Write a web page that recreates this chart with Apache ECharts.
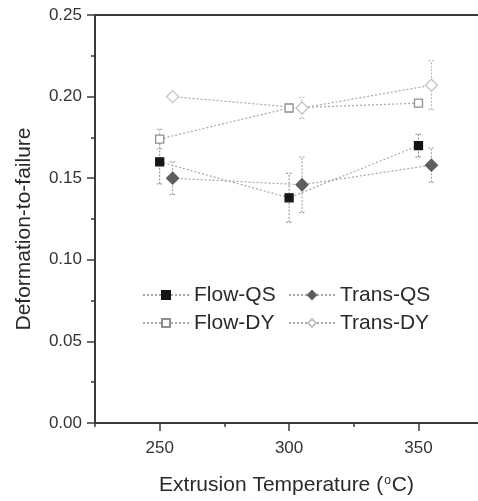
<!DOCTYPE html>
<html>
<head>
<meta charset="utf-8">
<script src="https://cdn.jsdelivr.net/npm/echarts@6/dist/echarts.min.js"></script>
<style>
  html, body { margin: 0; padding: 0; background: #fff; }
  #chart { width: 478px; height: 501px; }
</style>
</head>
<body>
<div id="chart"></div>
<script>
// Extrusion temperatures (°C) and the shift applied to the transverse series
const temps = [250, 300, 350];
const transShift = 5;
const xTickLabels = [250, 300, 350];
const xMinorTicks = [225, 275, 325];

// Deformation-to-failure, mean and error (±)
const flowQS = [0.160, 0.138, 0.170];
const flowQSErr = [0.0135, 0.015, 0.007];
const transQS = [0.150, 0.146, 0.158];
const transQSErr = [0.010, 0.017, 0.0105];
const flowDY = [0.174, 0.193, 0.196];
const flowDYErr = [0.006, 0.002, 0.002];
const transDY = [0.200, 0.193, 0.207];
const transDYErr = [0.002, 0.0065, 0.015];

const FONT = '"Liberation Sans", Arial, sans-serif';
const lineStyle = { color: '#a8a8a8', width: 1.2, type: [2, 2] };

function points(xs, ys, shift) {
  return xs.map((x, i) => [x + shift, ys[i]]);
}
function errRows(xs, ys, errs, shift) {
  return xs.map((x, i) => [x + shift, ys[i] - errs[i], ys[i] + errs[i]]);
}

function errorSeries(rows, color) {
  return {
    type: 'custom',
    xAxisIndex: 0,
    yAxisIndex: 0,
    z: 1,
    silent: true,
    data: rows,
    renderItem: function (params, api) {
      const x = api.value(0);
      const lo = api.coord([x, api.value(1)]);
      const hi = api.coord([x, api.value(2)]);
      const cap = 3;
      const style = { stroke: color, lineWidth: 1, lineDash: [2, 1.5] };
      return {
        type: 'group',
        children: [
          { type: 'line', shape: { x1: lo[0], y1: lo[1], x2: hi[0], y2: hi[1] }, style: style },
          { type: 'line', shape: { x1: lo[0] - cap, y1: lo[1], x2: lo[0] + cap, y2: lo[1] }, style: style },
          { type: 'line', shape: { x1: hi[0] - cap, y1: hi[1], x2: hi[0] + cap, y2: hi[1] }, style: style }
        ]
      };
    }
  };
}

function lineSeries(name, data, symbol, size, fill, border) {
  return {
    name: name,
    type: 'line',
    xAxisIndex: 0,
    yAxisIndex: 0,
    z: 3,
    data: data,
    symbol: symbol,
    symbolSize: size,
    showAllSymbol: true,
    lineStyle: lineStyle,
    itemStyle: { color: fill, borderColor: border, borderWidth: 1.3, opacity: 1 },
    emphasis: { disabled: true }
  };
}

const axisColor = '#3a3a3a';
const legendText = { fontFamily: FONT, fontSize: 21, color: '#2a2a2a', lineHeight: 22 };
const xMin = 225, xMax = 373;

const option = {
  animation: false,
  backgroundColor: '#ffffff',
  textStyle: { fontFamily: FONT },
  grid: { left: 95, right: 0, top: 15, bottom: 77 },
  legend: [
    {
      orient: 'vertical', left: 142, top: 284, padding: 0, itemGap: 6,
      itemWidth: 46, itemHeight: 10,
      data: ['Flow-QS', 'Flow-DY'], textStyle: legendText
    },
    {
      orient: 'vertical', left: 288, top: 284, padding: 0, itemGap: 6,
      itemWidth: 46, itemHeight: 10,
      data: ['Trans-QS', 'Trans-DY'], textStyle: legendText
    }
  ],
  xAxis: [
    {
      type: 'value', min: xMin, max: xMax, interval: 25,
      position: 'bottom',
      axisLine: { show: true, onZero: false, lineStyle: { color: axisColor, width: 2 } },
      axisTick: { show: true, customValues: xTickLabels, length: 8, lineStyle: { color: axisColor, width: 1.5 } },
      axisLabel: { customValues: xTickLabels, margin: 17, fontFamily: FONT, fontSize: 17, color: '#333' },
      splitLine: { show: false },
      name: 'Extrusion Temperature ({sup|o}C)',
      nameLocation: 'middle',
      nameGap: 52,
      nameTextStyle: {
        fontFamily: FONT, fontSize: 21, color: '#2a2a2a',
        rich: { sup: { fontFamily: FONT, fontSize: 12, verticalAlign: 'top', color: '#2a2a2a', padding: [0, 1, 0, 1] } }
      }
    },
    {
      type: 'value', min: xMin, max: xMax, interval: 25,
      position: 'bottom',
      axisLine: { show: false, onZero: false },
      axisTick: { show: true, customValues: xMinorTicks, length: 4, lineStyle: { color: axisColor, width: 1.5 } },
      axisLabel: { show: false },
      splitLine: { show: false }
    },
    {
      // top frame line
      type: 'value', min: xMin, max: xMax,
      position: 'top',
      axisLine: { show: true, onZero: false, lineStyle: { color: axisColor, width: 2 } },
      axisTick: { show: false },
      axisLabel: { show: false },
      splitLine: { show: false }
    }
  ],
  yAxis: {
    type: 'value', min: 0, max: 0.25, interval: 0.05,
    axisLine: { show: true, lineStyle: { color: axisColor, width: 2 } },
    axisTick: { show: true, length: 8, lineStyle: { color: axisColor, width: 1.5 } },
    minorTick: { show: true, splitNumber: 2, length: 4, lineStyle: { color: axisColor, width: 1.5 } },
    axisLabel: { margin: 13, fontFamily: FONT, fontSize: 17, color: '#333', formatter: v => v.toFixed(2) },
    splitLine: { show: false },
    name: 'Deformation-to-failure',
    nameLocation: 'middle',
    nameGap: 60,
    nameTextStyle: { fontFamily: FONT, fontSize: 21, color: '#2a2a2a', padding: [0, 20, 0, 0] }
  },
  series: [
    errorSeries(errRows(temps, flowQS, flowQSErr, 0), '#8a8a8a'),
    errorSeries(errRows(temps, transQS, transQSErr, transShift), '#9a9a9a'),
    errorSeries(errRows(temps, flowDY, flowDYErr, 0), '#a5a5a5'),
    errorSeries(errRows(temps, transDY, transDYErr, transShift), '#b5b5b5'),
    lineSeries('Flow-QS', points(temps, flowQS, 0), 'rect', 8, '#151515', '#151515'),
    lineSeries('Trans-QS', points(temps, transQS, transShift), 'diamond', 12, '#5e5e5e', '#5e5e5e'),
    lineSeries('Flow-DY', points(temps, flowDY, 0), 'rect', 8, '#ffffff', '#8f8f8f'),
    lineSeries('Trans-DY', points(temps, transDY, transShift), 'diamond', 12, '#ffffff', '#c4c4c4')
  ]
};

const chart = echarts.init(document.getElementById('chart'), null, { renderer: 'canvas' });
chart.setOption(option);
</script>
</body>
</html>
